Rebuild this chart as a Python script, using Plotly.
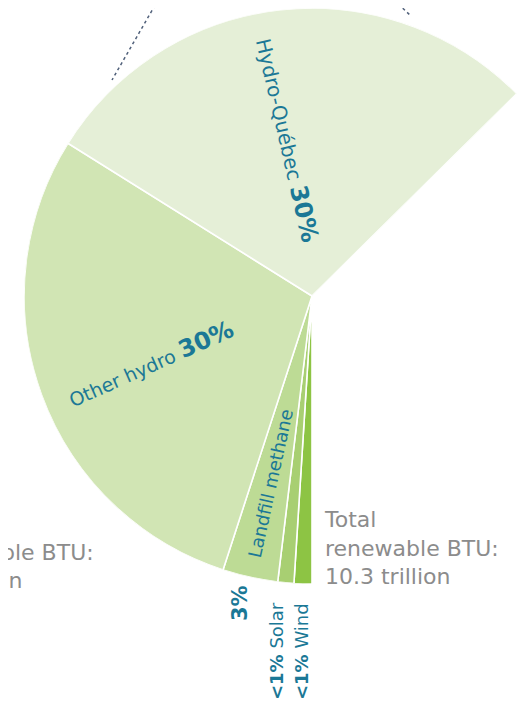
import math
import numpy as np
import plotly.graph_objects as go

# ---- data (share of total renewable BTU, %) ----
sources = ["Wind", "Solar", "Landfill methane", "Other hydro", "Hydro-Québec"]
shares = [1.0, 0.9, 3.1, 28.9, 28.7]
slice_colors = ["#8dc444", "#a8cf72", "#bddb95", "#d1e5b4", "#e5efd7"]

label_texts = [
    "<b>&lt;1%</b> Wind",
    "<b>&lt;1%</b> Solar",
    "Landfill methane",
    "Other hydro <b><span style='font-size:24px'>30%</span></b>",
    "Hydro-Québec <b><span style='font-size:24px'>30%</span></b>",
]
total_text = "Total<br>renewable BTU:<br>10.3 trillion"
cut_text_1 = "ble BTU:"
cut_text_2 = "on"

# page offset of the figure (default body margin of the html page)
OFF = 8
W, H = 526 - OFF, 711 - OFF

def fx(X):
    return X - OFF

def fy(Y):
    return Y - OFF

def px(X, Y):
    return fx(X) / W, 1 - fy(Y) / H

cx, cy, R = 312, 296, 288  # pie centre / radius in page pixels
start_cw = 180.0           # first slice starts at 6 o'clock, going clockwise

shares_arr = np.array(shares)
widths = shares_arr * 3.6
ends = start_cw + np.cumsum(widths)
centers = ends - widths / 2

# sector of the polar subplot (screen degrees, ccw from east)
end_std = (90 - ends[-1]) % 360
sector = [end_std, 270]
x1 = max(math.cos(math.radians(end_std)), 0)
left, right = fx(cx - R), fx(cx + x1 * R)
top, bottom = fy(cy - R), fy(cy + R)

fig = go.Figure()
fig.add_trace(go.Barpolar(
    r=[1] * len(shares),
    theta=centers.tolist(),
    width=widths.tolist(),
    marker=dict(color=slice_colors, line=dict(color="white", width=1.6)),
    text=sources,
    hoverinfo="text",
    showlegend=False,
))

fig.update_layout(
    width=W, height=H,
    margin=dict(l=0, r=0, t=0, b=0),
    paper_bgcolor="white",
    polar=dict(
        domain=dict(x=[max(left / W, 0), min(right / W, 1)],
                    y=[max(1 - bottom / H, 0), min(1 - top / H, 1)]),
        sector=sector,
        bgcolor="rgba(0,0,0,0)",
        angularaxis=dict(visible=False, direction="clockwise", rotation=90),
        radialaxis=dict(visible=False, range=[0, 1]),
    ),
)

teal = "#1b7896"
font_main = "DejaVu Sans"

# slice labels: (page centre x, y, angle, size)
label_pos = [
    (301, 652, -90, 18),
    (276, 651, -90, 18),
    (270, 483, -77.5, 18),
    (151, 364, -24, 19),
    (287, 140, 77, 20),
]
for txt, (lx, ly, ang, sz) in zip(label_texts, label_pos):
    x, y = px(lx, ly)
    fig.add_annotation(x=x, y=y, xref="paper", yref="paper", text=txt,
                       textangle=ang, showarrow=False, xanchor="center", yanchor="middle",
                       font=dict(family=font_main, size=sz, color=teal))

x, y = px(240, 603)
fig.add_annotation(x=x, y=y, xref="paper", yref="paper", text="<b>3%</b>",
                   textangle=-90, showarrow=False, xanchor="center", yanchor="middle",
                   font=dict(family=font_main, size=21, color=teal))

x, y = px(322, 505)
fig.add_annotation(x=x, y=y, xref="paper", yref="paper", text=total_text,
                   showarrow=False, xanchor="left", yanchor="top", align="left",
                   font=dict(family=font_main, size=22, color="#8c8c8c"))

# partly cropped label of the neighbouring chart
x, y = px(-1, 552)
fig.add_annotation(x=x, y=y, xref="paper", yref="paper", text=cut_text_1,
                   showarrow=False, xanchor="left", yanchor="middle",
                   font=dict(family=font_main, size=22, color="#8c8c8c"))
x, y = px(24, 580)
fig.add_annotation(x=x, y=y, xref="paper", yref="paper", text=cut_text_2,
                   showarrow=False, xanchor="right", yanchor="middle",
                   font=dict(family=font_main, size=22, color="#8c8c8c"))

# dotted connector lines from the chart above
for (xa, ya, xb, yb) in [(158, 0, 112, 80), (394, 0, 411, 16)]:
    a = px(xa, ya); b = px(xb, yb)
    fig.add_shape(type="line", xref="paper", yref="paper", x0=a[0], y0=a[1], x1=b[0], y1=b[1],
                  line=dict(color="#50607a", width=1.5, dash="dot"))

fig.write_html("out.html")
